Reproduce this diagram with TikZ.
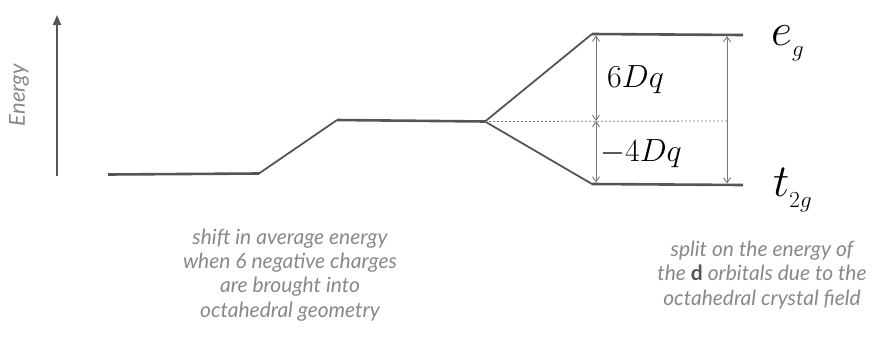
\RequirePackage{fix-cm}
\documentclass[tikz,border=0pt]{standalone}
\usepackage{fontspec}
\setsansfont{Lato}
\usetikzlibrary{arrows.meta}
\definecolor{lvl}{HTML}{555555}
\definecolor{dim}{HTML}{777777}
\definecolor{txt}{HTML}{888888}
\tikzset{
  level/.style={draw=lvl, line width=2.6pt},
  slope/.style={draw=lvl, line width=1.8pt},
  dimarrow/.style={draw=dim, line width=0.9pt, {Straight Barb[length=5pt,width=7pt]}-{Straight Barb[length=5pt,width=7pt]}},
  caption/.style={align=center, text=txt, font=\sffamily\itshape\fontsize{21}{24.3}\selectfont},
  mathlbl/.style={inner sep=0pt},
}
\begin{document}
\begin{tikzpicture}[x=1pt,y=-1pt]
\useasboundingbox (0,0) rectangle (873,338);
% energy axis
\coordinate (ea) at (57,176);
\coordinate (eb) at (57,15);
\draw[draw=lvl, line width=1.8pt, -{Triangle[length=10pt,width=8pt]}] (ea) -- (eb);
\node[rotate=90, text=txt, font=\sffamily\itshape\fontsize{22}{24}\selectfont] (energy) at (19,95) {Energy};
% levels
\coordinate (a1) at (108,174.5);
\coordinate (a2) at (259,173.5);
\coordinate (b1) at (337,120);
\coordinate (b2) at (485,121.5);
\coordinate (c1) at (592,34);
\coordinate (c2) at (743,35);
\coordinate (d1) at (592,184);
\coordinate (d2) at (743,185);
\draw[level] (a1) -- (a2);
\draw[slope] (a2) -- (b1);
\draw[level] (b1) -- (b2);
\draw[slope] (b2) -- (c1);
\draw[slope] (b2) -- (d1);
\draw[level] (c1) -- (c2);
\draw[level] (d1) -- (d2);
% baricentre dashed
\coordinate (m0) at (596,121);
\coordinate (me) at (727,121);
\draw[dim, line width=0.8pt, dash pattern=on 2pt off 2pt] (b2) -- (me);
% dimension arrows
\coordinate (u) at (596,35.5);
\coordinate (l) at (596,182.5);
\coordinate (ru) at (727,36);
\coordinate (rl) at (727,183.5);
\draw[dimarrow] (m0) -- (u);
\draw[dimarrow] (m0) -- (l);
\draw[dimarrow] (ru) -- (rl);
% labels
\node[mathlbl, anchor=base west, font=\fontsize{32}{36}\selectfont] (six) at (607,87) {$6Dq$};
\node[mathlbl, anchor=base west, font=\fontsize{32}{36}\selectfont] (four) at (600,161) {$-4Dq$};
\node[mathlbl, anchor=base west, font=\fontsize{46}{50}\selectfont] (eg) at (771,45) {$e_{_g}$};
\node[mathlbl, anchor=base west, font=\fontsize{46}{50}\selectfont] (tg) at (773,196) {$t_{_{2g}}$};
% captions
\node[caption] (cap1) at (290,275) {shift in average energy\\when 6 negative charges\\are brought into\\octahedral geometry};
\node[caption] (cap2) at (762,275) {split on the energy of\\the {\upshape\bfseries\color{lvl}d} orbitals due to the\\octahedral crystal field};
\end{tikzpicture}
\end{document}
